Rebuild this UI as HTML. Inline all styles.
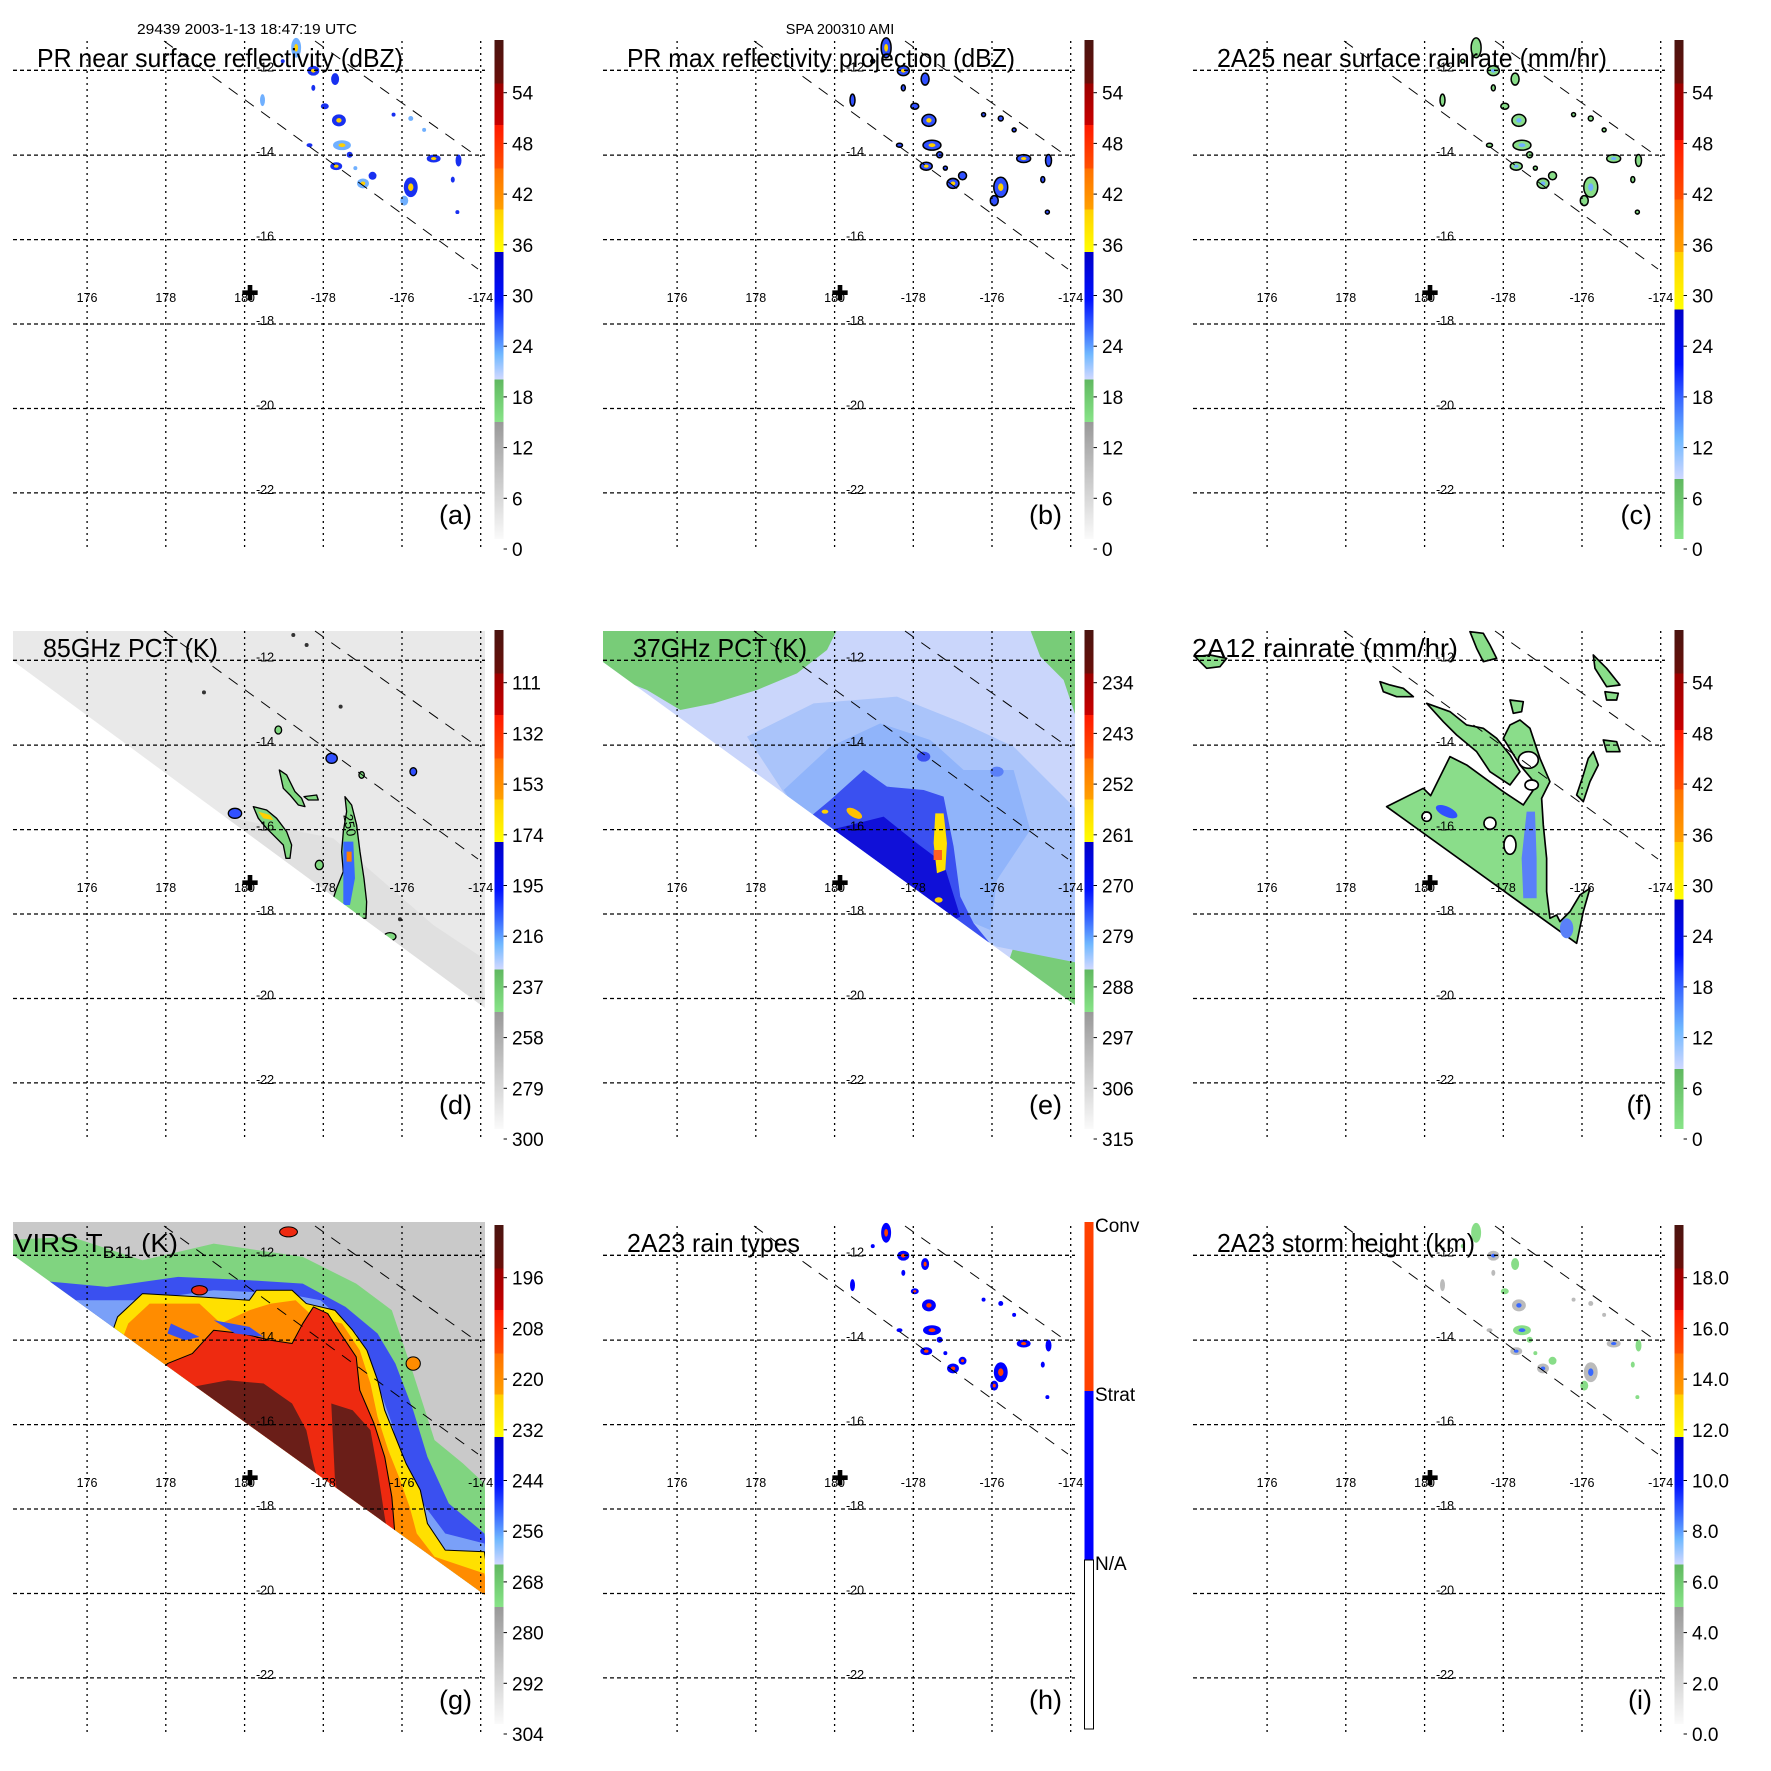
<!DOCTYPE html>
<html><head><meta charset="utf-8"><style>
html,body{margin:0;padding:0;background:#fff;}
svg{display:block;font-family:"Liberation Sans",Arial,sans-serif;}
</style></head><body>
<svg id="fig" width="1771" height="1771" viewBox="0 0 1771 1771" xmlns="http://www.w3.org/2000/svg">
<defs>
<clipPath id="clipD"><polygon points="13,41 485,41 485,418 13,71"/></clipPath>
<clipPath id="clipE"><polygon points="13,41 485,41 485,415 13,72"/></clipPath>
<clipPath id="clipG"><polygon points="13,37 485,37 485,410 13,70"/></clipPath>
</defs>
<text x="137" y="34" font-size="14.5" textLength="220" lengthAdjust="spacingAndGlyphs">29439 2003-1-13 18:47:19 UTC</text>
<text x="840" y="34" font-size="14.5" text-anchor="middle">SPA 200310 AMI</text>
</svg>
<script>
// ---- data arrays ----
const lonLabels = ['176','178','180','-178','-176','-174'];
const latLabels = ['-12','-14','-16','-18','-20','-22'];
const gridX = [87.1,165.8,244.6,323.3,402,480.7];
const gridY = [70.3,155.1,239.6,324,408.5,492.9];
const cbLabelsDBZ = ['0','6','12','18','24','30','36','42','48','54'];
const cbLabels85 = ['300','279','258','237','216','195','174','153','132','111'];
const cbLabels37 = ['315','306','297','288','279','270','261','252','243','234'];
const cbLabelsVIRS = ['304','292','280','268','256','244','232','220','208','196'];
const cbLabelsHgt = ['0.0','2.0','4.0','6.0','8.0','10.0','12.0','14.0','16.0','18.0'];
const rainTypeLabels = ['Conv','Strat','N/A'];
// PR blob centers (x, y, rx, ry) in zoomed frame
const prBlobX = [775,820,877,687,850,887,895,880,915,950,975,1075,1058,1135,1200,1075,1197,810,930,820,740,1110,1185,1030];
const prBlobY = [125,185,207,262,278,315,380,435,405,480,460,490,525,415,420,310,555,380,440,230,160,340,470,300];
const prBlobRX = [10,12,8,5,8,14,18,12,6,12,8,14,8,14,6,5,4,6,4,4,4,4,4,4];
const prBlobRY = [20,10,12,12,6,12,10,8,6,10,8,20,10,8,12,5,4,4,4,6,4,4,6,4];

const stopsA = [[0,'#4a1410'],[0.087,'#6a0f0a'],[0.087,'#9a0000'],[0.17,'#c80000'],[0.17,'#ff1800'],[0.258,'#ff5000'],[0.258,'#ff7000'],[0.34,'#ffa000'],[0.34,'#ffd000'],[0.425,'#ffff00'],[0.425,'#0000c8'],[0.52,'#0010ff'],[0.58,'#3868ff'],[0.63,'#70b8ff'],[0.68,'#d0d8ff'],[0.68,'#60b860'],[0.766,'#88e488'],[0.766,'#999999'],[1,'#fafafa']];
const stopsC = [[0,'#4a1410'],[0.087,'#6a0f0a'],[0.087,'#9a0000'],[0.2,'#c80000'],[0.2,'#ff1800'],[0.32,'#ff5000'],[0.32,'#ff7000'],[0.425,'#ffa000'],[0.425,'#ffd000'],[0.54,'#ffff00'],[0.54,'#0000c8'],[0.65,'#0010ff'],[0.72,'#3868ff'],[0.8,'#70b8ff'],[0.88,'#d0d8ff'],[0.88,'#60b860'],[1,'#88e488']];

const NS='http://www.w3.org/2000/svg';
const svg=document.getElementById('fig');
const defs=svg.querySelector('defs');
function mk(tag,attrs,parent){const e=document.createElementNS(NS,tag);for(const k in attrs)e.setAttribute(k,attrs[k]);(parent||svg).appendChild(e);return e;}
function grad(id,stops){const g=mk('linearGradient',{id:id,x1:0,y1:0,x2:0,y2:1},defs);stops.forEach(s=>{mk('stop',{offset:s[0],'stop-color':s[1]},g);});}
grad('gA',stopsA);grad('gC',stopsC);

const panels=[
 {id:'a',col:0,row:0,title:'PR near surface reflectivity (dBZ)',tx:37,tw:366,letter:'(a)',cb:'gA',labels:cbLabelsDBZ,kind:'pr'},
 {id:'b',col:1,row:0,title:'PR max reflectivity projection (dBZ)',tx:37,tw:388,letter:'(b)',cb:'gA',labels:cbLabelsDBZ,kind:'prmax'},
 {id:'c',col:2,row:0,title:'2A25 near surface rainrate (mm/hr)',tx:37,tw:390,letter:'(c)',cb:'gC',labels:cbLabelsDBZ,kind:'rr'},
 {id:'d',col:0,row:1,title:'85GHz PCT (K)',tx:43,tw:175,letter:'(d)',cb:'gA',labels:cbLabels85,kind:'d'},
 {id:'e',col:1,row:1,title:'37GHz PCT (K)',tx:43,tw:174,letter:'(e)',cb:'gA',labels:cbLabels37,kind:'e'},
 {id:'f',col:2,row:1,title:'2A12 rainrate (mm/hr)',tx:12,tw:266,letter:'(f)',cb:'gC',labels:cbLabelsDBZ,kind:'f'},
 {id:'g',col:0,row:2,title:'VIRS T',tx:14,tw:164,letter:'(g)',cb:'gA',labels:cbLabelsVIRS,kind:'g'},
 {id:'h',col:1,row:2,title:'2A23 rain types',tx:37,tw:173,letter:'(h)',cb:'h',labels:rainTypeLabels,kind:'h'},
 {id:'i',col:2,row:2,title:'2A23 storm height (km)',tx:37,tw:258,letter:'(i)',cb:'gA',labels:cbLabelsHgt,kind:'i'}
];
const colOff=[0,590,1180], rowOff=[0,590,1185];

function poly(parent,pts,fill,stroke,sw){return mk('polygon',{points:pts,fill:fill,stroke:stroke||'none','stroke-width':sw||0,'stroke-linejoin':'round'},parent);}

function drawPR(g,kind){
  const z=mk('g',{transform:'scale(0.3821)'},g);
  for(let i=0;i<prBlobX.length;i++){
    let fill='#2040ff',stroke='none',sw=0,core=null;
    if(kind==='pr'){fill=i%3===0?'#70b0ff':'#1830f0';core=prBlobRX[i]>9?'#ffd000':null;}
    if(kind==='prmax'){fill='#3050ff';stroke='#000';sw=4;core=prBlobRX[i]>9?'#ffd000':null;}
    if(kind==='rr'){fill='#88dd88';stroke='#000';sw=4;core=prBlobRX[i]>11?'#70b0ff':null;}
    if(kind==='h'){fill='#0000ff';core=prBlobRX[i]>7?'#ff4000':null;}
    if(kind==='i'){fill=i%2?'#bbbbbb':'#88dd88';core=prBlobRX[i]>11?'#3868ff':null;}
    const e=mk('ellipse',{cx:prBlobX[i],cy:prBlobY[i],rx:prBlobRX[i]*1.3,ry:prBlobRY[i]*1.3,fill:fill,stroke:stroke,'stroke-width':sw},z);
    
    
    if(core){const c=mk('ellipse',{cx:prBlobX[i],cy:prBlobY[i],rx:prBlobRX[i]*0.5,ry:prBlobRY[i]*0.5,fill:core},z);
      
      }
  }
}
function drawD(g){
  const cl=mk('g',{'clip-path':'url(#clipD)'},g);
  poly(cl,'0,0 500,0 500,500 0,500','#e9e9e9');
  const z=mk('g',{transform:'translate(0,35) scale(0.3333)'},cl);
  poly(z,'600,560 1000,640 1300,900 1450,1000 1450,1200 600,1200','#e0e0e0');
  poly(z,'760,545 800,555 830,580 860,620 875,660 870,700 858,700 850,660 830,640 800,610 775,580','#80d880','#000',4);
  poly(z,'838,435 860,450 885,500 905,520 915,545 895,540 870,510 850,490','#80d880','#000',4);
  poly(z,'912,515 950,510 955,525 925,525','#80d880','#000',4);
  poly(z,'1035,515 1055,540 1070,600 1080,680 1092,760 1100,830 1098,880 1075,880 1040,850 1000,820 1010,790 1030,740 1025,680 1030,620 1040,560','#80d880','#000',4);
  poly(z,'1030,650 1060,650 1065,760 1050,840 1030,840','#3868ff');
  poly(z,'1040,680 1055,680 1055,710 1040,710','#ff8000');
  poly(z,'775,560 810,570 820,585 790,580','#ffd000');
  mk('ellipse',{cx:705,cy:565,rx:20,ry:15,fill:'#3050ff',stroke:'#000','stroke-width':4},z);
  mk('ellipse',{cx:995,cy:400,rx:17,ry:15,fill:'#3050ff',stroke:'#000','stroke-width':4},z);
  mk('ellipse',{cx:1170,cy:935,rx:18,ry:12,fill:'#80d880',stroke:'#000','stroke-width':4},z);
  mk('ellipse',{cx:958,cy:720,rx:12,ry:14,fill:'#80d880',stroke:'#000','stroke-width':4},z);
  mk('ellipse',{cx:1240,cy:440,rx:10,ry:12,fill:'#3050ff',stroke:'#000','stroke-width':4},z);
  mk('ellipse',{cx:835,cy:315,rx:10,ry:12,fill:'#80d880',stroke:'#000','stroke-width':4},z);
  mk('ellipse',{cx:1085,cy:450,rx:8,ry:10,fill:'#80d880',stroke:'#000','stroke-width':4},z);
  [[880,30],[920,60],[612,202],[1022,245],[1200,883]].forEach(p=>{mk('circle',{cx:p[0],cy:p[1],r:6,fill:'#333'},z);});
  const t=mk('text',{x:0,y:0,'font-size':40,transform:'translate(1030,570) rotate(80)'},z);t.textContent='250';
  
  
}
function drawE(g){
  const cl=mk('g',{'clip-path':'url(#clipE)'},g);
  poly(cl,'0,0 500,0 500,500 0,500','#cad6fb');
  const z=mk('g',{transform:'translate(7,40) scale(0.3333)'},cl);
  poly(z,'0,0 720,0 690,60 600,130 480,180 350,220 250,240 150,180 0,120','#78cc78');
  poly(z,'1300,0 1450,0 1450,300 1400,150 1330,80','#78cc78');
  poly(z,'1250,950 1450,1000 1450,1200 1200,1100','#78cc78');
  poly(z,'450,320 650,220 900,200 1100,280 1250,350 1450,550 1450,1000 1200,950 700,700','#aac4fa');
  poly(z,'560,480 700,350 850,280 1000,330 1100,420 1250,420 1300,600 1200,750 1180,900 700,700','#90b4fa');
  poly(z,'640,560 700,510 800,420 870,470 980,480 1040,500 1070,650 1090,800 1130,880 1175,935 1175,1100 600,1100','#3a50f0');
  poly(z,'700,600 860,560 960,640 1040,700 1090,860 1050,880 900,800 740,700','#1010d8');
  poly(z,'1015,550 1040,550 1050,640 1045,720 1020,730 1010,640','#ffe000');
  poly(z,'1010,660 1035,660 1035,690 1010,690','#ff6020');
  mk('ellipse',{cx:772,cy:550,rx:26,ry:12,fill:'#ffc000',transform:'rotate(30 772 550)'},z);
  mk('ellipse',{cx:684,cy:545,rx:10,ry:6,fill:'#ffd000'},z);
  mk('ellipse',{cx:1025,cy:810,rx:12,ry:8,fill:'#ffd000'},z);
  mk('ellipse',{cx:980,cy:380,rx:20,ry:15,fill:'#3a50f0'},z);
  mk('ellipse',{cx:1200,cy:425,rx:20,ry:15,fill:'#5a80f8'},z);
}
function drawF(g){
  const z=mk('g',{transform:'translate(10,35) scale(0.3333)'},g);
  const sw=5;
  poly(z,'590,545 700,490 722,512 780,395 830,420 940,500 1000,540 1040,480 990,420 940,340 960,300 990,285 1020,310 1050,400 1080,470 1055,520 1060,600 1070,700 1070,800 1080,880 1100,870 1110,890 1140,860 1170,810 1200,790 1180,860 1160,955','#8add8a','#000',sw);
  poly(z,'710,235 780,260 830,300 880,310 920,340 960,390 990,440 960,480 900,440 860,380 800,330 760,290','#8add8a','#000',sw);
  poly(z,'570,170 600,180 640,190 670,215 620,215 580,200','#8add8a','#000',sw);
  poly(z,'840,20 880,25 900,60 920,100 880,110 860,70','#8add8a','#000',sw);
  poly(z,'1210,90 1250,130 1290,180 1250,185 1215,130','#8add8a','#000',sw);
  poly(z,'1210,380 1225,420 1200,470 1180,530 1160,510 1180,450 1195,400','#8add8a','#000',sw);
  poly(z,'15,95 60,90 110,100 90,125 50,130','#8add8a','#000',sw);
  poly(z,'1240,345 1280,350 1290,380 1250,380','#8add8a','#000',sw);
  poly(z,'960,225 1000,230 995,260 970,265','#8add8a','#000',sw);
  poly(z,'1245,200 1285,205 1280,225 1250,225','#8add8a','#000',sw);
  mk('ellipse',{cx:1015,cy:405,rx:30,ry:25,fill:'#fff',stroke:'#000','stroke-width':sw},z);
  mk('ellipse',{cx:900,cy:595,rx:18,ry:18,fill:'#fff',stroke:'#000','stroke-width':sw},z);
  mk('ellipse',{cx:960,cy:660,rx:18,ry:28,fill:'#fff',stroke:'#000','stroke-width':sw},z);
  mk('ellipse',{cx:710,cy:575,rx:14,ry:14,fill:'#fff',stroke:'#000','stroke-width':sw},z);
  mk('ellipse',{cx:1025,cy:480,rx:20,ry:15,fill:'#fff',stroke:'#000','stroke-width':sw},z);
  mk('ellipse',{cx:770,cy:560,rx:35,ry:15,fill:'#3050ff',transform:'rotate(25 770 560)'},z);
  poly(z,'1010,560 1035,560 1040,700 1040,820 1000,820 995,700','#5a80f8');
  mk('ellipse',{cx:1130,cy:910,rx:20,ry:30,fill:'#5a80f8'},z);
}
function drawG(g){
  const cl=mk('g',{'clip-path':'url(#clipG)'},g);
  poly(cl,'0,0 500,0 500,500 0,500','#c9c9c9');
  const z=mk('g',{transform:'translate(0,38.6) scale(0.3562,0.3332)'},cl);
  poly(z,'0,50 200,40 400,110 600,60 850,100 1000,180 1100,260 1160,450 1220,650 1300,720 1360,780 1400,1300 0,1300','#80d480');
  poly(z,'100,170 300,190 500,160 700,170 850,180 970,250 1060,330 1110,420 1160,560 1200,700 1260,840 1360,930 1400,1300 0,1300','#3a50f0');
  poly(z,'200,230 400,230 600,200 800,210 900,230 1000,330 1050,450 1100,600 1130,720 1180,830 1250,930 1360,960 1400,1300 0,1300','#7aa0f8');
  poly(z,'330,280 400,210 560,220 700,230 720,200 820,200 860,240 940,260 990,320 1030,380 1060,470 1080,560 1110,640 1140,720 1180,800 1200,900 1250,980 1360,985 1400,1300 0,1300','#ffe000','#000',3);
  poly(z,'360,300 420,240 560,240 620,300 700,260 760,240 830,230 880,280 960,300 1010,380 1040,480 1060,580 1090,680 1120,760 1150,850 1170,930 1220,1000 1360,1050 1400,1300 0,1300','#ff8c00');
  poly(z,'470,420 540,390 600,320 680,330 760,350 820,360 850,300 880,250 920,270 950,320 1000,400 1010,500 1050,600 1080,700 1100,820 1110,950 1130,1000 1360,1200 0,1300','#ee2a10','#000',3);
  poly(z,'540,490 640,470 740,480 820,540 860,620 880,720 900,800 0,1300','#6a1e18');
  poly(z,'930,540 990,560 1040,620 1060,740 1080,880 1100,1000 960,900 940,760','#6a1e18');
  poly(z,'480,300 560,340 520,350 470,330','#3a50f0');
  poly(z,'600,290 700,310 740,340 660,330','#3a50f0');
  mk('ellipse',{cx:810,cy:25,rx:25,ry:15,fill:'#ee2a10',stroke:'#000','stroke-width':3},z);
  mk('ellipse',{cx:1160,cy:420,rx:20,ry:20,fill:'#ff8c00',stroke:'#000','stroke-width':3},z);
  mk('ellipse',{cx:560,cy:200,rx:22,ry:14,fill:'#ee2a10',stroke:'#000','stroke-width':3},z);
}

panels.forEach(p=>{
  const g=mk('g',{transform:'translate('+colOff[p.col]+','+rowOff[p.row]+')'});
  
  
  const field=mk('g',{},g);
  
  
  if(['pr','prmax','rr','h','i'].includes(p.kind)) drawPR(field,p.kind);
  if(p.kind==='d') drawD(field);
  if(p.kind==='e') drawE(field);
  if(p.kind==='f') drawF(field);
  if(p.kind==='g') drawG(field);
  gridX.forEach((x,i)=>{const l=mk('line',{x1:x,y1:41,x2:x,y2:547,stroke:'#000','stroke-width':1.3,'stroke-dasharray':'2,4'},g);
    
    });
  gridY.forEach((y,i)=>{const l=mk('line',{x1:13,y1:y,x2:485,y2:y,stroke:'#000','stroke-width':1.3,'stroke-dasharray':'4,3'},g);
    
    });
  [[164,41,478,269],[315,41,478,157]].forEach(s=>{const l=mk('line',{x1:s[0],y1:s[1],x2:s[2],y2:s[3],stroke:'#000','stroke-width':1,'stroke-dasharray':'11,9'},g);
    
    });
  lonLabels.forEach((s,i)=>{const t=mk('text',{x:gridX[i],y:302,'font-size':12.5,'text-anchor':'middle'},g);t.textContent=s;
    
    });
  latLabels.forEach((s,i)=>{const t=mk('text',{x:256,y:gridY[i]+1,'font-size':12.5},g);t.textContent=s;
    
    });
  const plus=mk('text',{x:250,y:300,'font-size':20,'font-weight':'bold','text-anchor':'middle'},g);plus.textContent='✚';
  
  
  const t=mk('text',{x:p.tx,y:67,'font-size':26,textLength:p.tw,lengthAdjust:'spacingAndGlyphs'},g);
  if(p.kind==='g'){t.textContent='VIRS T';const s=mk('tspan',{'font-size':17,dy:6},t);s.textContent='B11';const s2=mk('tspan',{dy:-6},t);s2.textContent=' (K)';}
  else t.textContent=p.title;
  
  
  const lt=mk('text',{x:472,y:524,'font-size':27,'text-anchor':'end'},g);lt.textContent=p.letter;
  
  
  if(p.cb==='h'){
    const cols=['#ff4000','#0000ff','#ffffff'];
    cols.forEach((c,i)=>{const r=mk('rect',{x:494.5,y:37+169*i,width:9,height:169,fill:c,stroke:i===2?'#000':'none','stroke-width':1},g);
      
      });
    p.labels.forEach((s,i)=>{const tx=mk('text',{x:505,y:37+169*i+10,'font-size':19},g);tx.textContent=s;
      
      });
  } else {
    const r=mk('rect',{x:494.5,y:40,width:9,height:499,fill:'url(#'+p.cb+')'},g);
    
    
    p.labels.forEach((s,i)=>{const y=549-50.7*i;
      const tk=mk('line',{x1:503.6,x2:507,y1:y,y2:y,stroke:'#000','stroke-width':1},g);
      
      
      const tx=mk('text',{x:512,y:y+7,'font-size':19},g);tx.textContent=s;
      
      });
  }
});
</script>
</body></html>
